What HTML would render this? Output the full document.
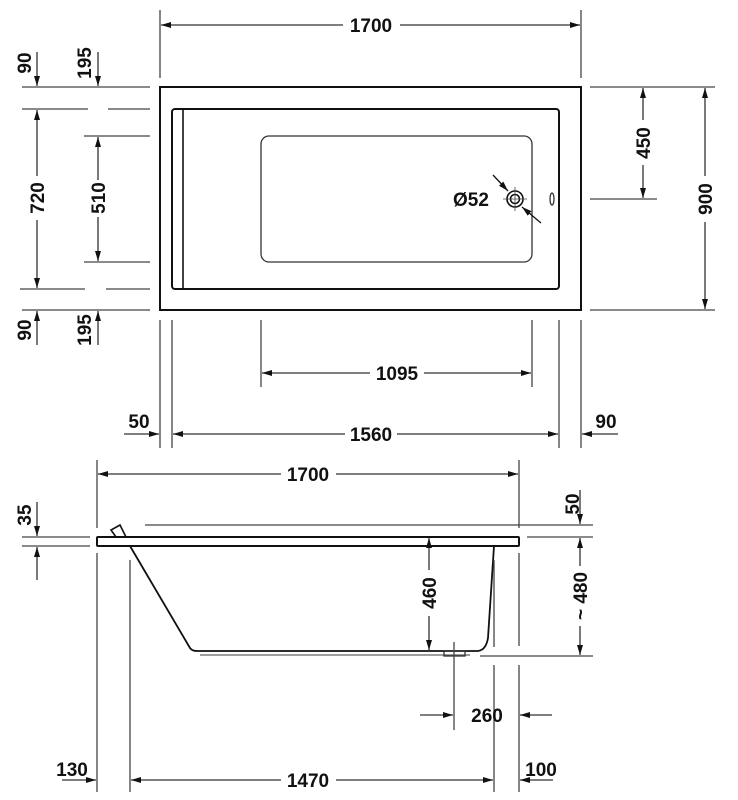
<!DOCTYPE html>
<html><head><meta charset="utf-8"><style>
html,body{margin:0;padding:0;background:#fff;}
svg{display:block;}
text{font-family:"Liberation Sans",sans-serif;font-weight:bold;font-size:19px;fill:#111;}
</style></head><body>
<svg width="738" height="800" viewBox="0 0 738 800" xmlns="http://www.w3.org/2000/svg">
<defs>
<marker id="a" viewBox="0 0 10 6" refX="10" refY="3" markerWidth="10" markerHeight="6" markerUnits="userSpaceOnUse" orient="auto-start-reverse"><path d="M0,0 L10,3 L0,6 z" fill="#111"/></marker>
</defs>
<g stroke="#444" stroke-width="1.3" fill="none">
<!-- TOP VIEW -->
<rect x="160" y="87" width="421" height="223" stroke="#111" stroke-width="2"/>
<rect x="172" y="109" width="387" height="180" rx="3" stroke="#111" stroke-width="2"/>
<line x1="183" y1="109" x2="183" y2="289" stroke="#111" stroke-width="1.6"/>
<rect x="261" y="136" width="271" height="126" rx="8" stroke="#333" stroke-width="1.3"/>
<circle cx="515" cy="199" r="8" stroke="#111" stroke-width="1.6"/>
<circle cx="515" cy="199" r="4.5" stroke="#111" stroke-width="1.6"/>
<line x1="503" y1="199" x2="527" y2="199" stroke-width="0.8"/>
<line x1="515" y1="187" x2="515" y2="211" stroke-width="0.8"/>
<ellipse cx="552" cy="199" rx="2" ry="6" stroke="#333"/>
<line x1="493" y1="175" x2="508" y2="191" stroke="#111" marker-end="url(#a)"/>
<line x1="541" y1="223" x2="522" y2="207" stroke="#111" marker-end="url(#a)"/>
<!-- top 1700 -->
<line x1="160" y1="10" x2="160" y2="78"/>
<line x1="581" y1="10" x2="581" y2="78"/>
<line x1="343" y1="25" x2="161" y2="25" stroke="#333" marker-end="url(#a)"/>
<line x1="400" y1="25" x2="580" y2="25" stroke="#333" marker-end="url(#a)"/>
<!-- right ext -->
<line x1="590" y1="87" x2="715" y2="87"/>
<line x1="590" y1="199" x2="657" y2="199"/>
<line x1="590" y1="310" x2="715" y2="310"/>
<line x1="643" y1="120" x2="643" y2="88" stroke="#333" marker-end="url(#a)"/>
<line x1="643" y1="165" x2="643" y2="198" stroke="#333" marker-end="url(#a)"/>
<line x1="705" y1="176" x2="705" y2="88" stroke="#333" marker-end="url(#a)"/>
<line x1="705" y1="222" x2="705" y2="309" stroke="#333" marker-end="url(#a)"/>
<!-- left ext -->
<line x1="22" y1="87" x2="150" y2="87"/>
<line x1="22" y1="109" x2="88" y2="109"/><line x1="108" y1="109" x2="150" y2="109"/>
<line x1="84" y1="136" x2="150" y2="136"/>
<line x1="84" y1="262" x2="150" y2="262"/>
<line x1="20" y1="289" x2="85" y2="289"/><line x1="106" y1="289" x2="150" y2="289"/>
<line x1="22" y1="310" x2="150" y2="310"/>
<line x1="37" y1="52" x2="37" y2="86" stroke="#333" marker-end="url(#a)"/>
<line x1="98" y1="52" x2="98" y2="86" stroke="#333" marker-end="url(#a)"/>
<line x1="37" y1="176" x2="37" y2="110" stroke="#333" marker-end="url(#a)"/>
<line x1="37" y1="220" x2="37" y2="288" stroke="#333" marker-end="url(#a)"/>
<line x1="98" y1="180" x2="98" y2="137" stroke="#333" marker-end="url(#a)"/>
<line x1="98" y1="217" x2="98" y2="261" stroke="#333" marker-end="url(#a)"/>
<line x1="37" y1="345" x2="37" y2="311" stroke="#333" marker-end="url(#a)"/>
<line x1="98" y1="345" x2="98" y2="311" stroke="#333" marker-end="url(#a)"/>
<!-- below top ext -->
<line x1="160" y1="320" x2="160" y2="448"/>
<line x1="172" y1="320" x2="172" y2="448"/>
<line x1="261" y1="320" x2="261" y2="387"/>
<line x1="532" y1="320" x2="532" y2="387"/>
<line x1="559" y1="320" x2="559" y2="448"/>
<line x1="581" y1="320" x2="581" y2="448"/>
<line x1="370" y1="373" x2="262" y2="373" stroke="#333" marker-end="url(#a)"/>
<line x1="424" y1="373" x2="531" y2="373" stroke="#333" marker-end="url(#a)"/>
<line x1="345" y1="434" x2="173" y2="434" stroke="#333" marker-end="url(#a)"/>
<line x1="397" y1="434" x2="558" y2="434" stroke="#333" marker-end="url(#a)"/>
<line x1="124" y1="434" x2="159" y2="434" stroke="#333" marker-end="url(#a)"/>
<line x1="618" y1="434" x2="582" y2="434" stroke="#333" marker-end="url(#a)"/>

<!-- SIDE VIEW -->
<line x1="97" y1="460" x2="97" y2="528"/>
<line x1="97" y1="553" x2="97" y2="792"/>
<line x1="519" y1="460" x2="519" y2="528"/>
<line x1="519" y1="553" x2="519" y2="646"/>
<line x1="519" y1="665" x2="519" y2="792"/>
<line x1="281" y1="474" x2="98" y2="474" stroke="#333" marker-end="url(#a)"/>
<line x1="336" y1="474" x2="518" y2="474" stroke="#333" marker-end="url(#a)"/>
<rect x="97" y="537" width="422" height="9" rx="1" stroke="#111" stroke-width="2"/>
<line x1="145" y1="525" x2="593" y2="525"/>
<path d="M116,537 L111,530 L120,525 L126,537" stroke="#111" stroke-width="1.6"/>
<path d="M130,546 L190,648 Q192,651 197,651 L478,651 Q486,650 488,638 L494,546" stroke="#111" stroke-width="1.8"/>
<line x1="200" y1="655" x2="470" y2="655" stroke="#666"/>
<rect x="444" y="651" width="21" height="5" stroke="#333"/>
<!-- 35 -->
<line x1="22" y1="537" x2="90" y2="537"/>
<line x1="22" y1="546" x2="90" y2="546"/>
<line x1="37" y1="502" x2="37" y2="536" stroke="#333" marker-end="url(#a)"/>
<line x1="37" y1="580" x2="37" y2="547" stroke="#333" marker-end="url(#a)"/>
<!-- right 50/480 -->
<line x1="527" y1="537" x2="593" y2="537"/>
<line x1="480" y1="656" x2="593" y2="656"/>
<line x1="580" y1="490" x2="580" y2="524" stroke="#333" marker-end="url(#a)"/>
<line x1="580" y1="566" x2="580" y2="538" stroke="#333" marker-end="url(#a)"/>
<line x1="580" y1="626" x2="580" y2="655" stroke="#333" marker-end="url(#a)"/>
<!-- 460 -->
<line x1="429" y1="570" x2="429" y2="538" stroke="#333" marker-end="url(#a)"/>
<line x1="429" y1="616" x2="429" y2="650" stroke="#333" marker-end="url(#a)"/>
<!-- verticals -->
<line x1="130" y1="560" x2="130" y2="792"/>
<line x1="494" y1="560" x2="494" y2="647"/>
<line x1="494" y1="665" x2="494" y2="792"/>
<line x1="454" y1="642" x2="454" y2="730"/>
<line x1="420" y1="715" x2="453" y2="715" stroke="#333" marker-end="url(#a)"/>
<line x1="552" y1="715" x2="520" y2="715" stroke="#333" marker-end="url(#a)"/>
<line x1="62" y1="780" x2="96" y2="780" stroke="#333" marker-end="url(#a)"/>
<line x1="281" y1="780" x2="131" y2="780" stroke="#333" marker-end="url(#a)"/>
<line x1="336" y1="780" x2="493" y2="780" stroke="#333" marker-end="url(#a)"/>
<line x1="553" y1="780" x2="520" y2="780" stroke="#333" marker-end="url(#a)"/>
</g>
<g text-anchor="middle">
<text x="371" y="32">1700</text>
<text x="471" y="206">Ø52</text>
<text transform="translate(650,143) rotate(-90)">450</text>
<text transform="translate(712,199) rotate(-90)">900</text>
<text transform="translate(31,63) rotate(-90)">90</text>
<text transform="translate(91,63) rotate(-90)">195</text>
<text transform="translate(44,198) rotate(-90)">720</text>
<text transform="translate(105,198) rotate(-90)">510</text>
<text transform="translate(31,330) rotate(-90)">90</text>
<text transform="translate(91,330) rotate(-90)">195</text>
<text x="397" y="380">1095</text>
<text x="371" y="441">1560</text>
<text x="139" y="428">50</text>
<text x="606" y="428">90</text>
<text x="308" y="481">1700</text>
<text transform="translate(31,515) rotate(-90)">35</text>
<text transform="translate(579,504) rotate(-90)">50</text>
<text transform="translate(587,596) rotate(-90)">~ 480</text>
<text transform="translate(436,593) rotate(-90)">460</text>
<text x="487" y="722">260</text>
<text x="72" y="776">130</text>
<text x="308" y="787">1470</text>
<text x="541" y="776">100</text>
</g>
</svg>
</body></html>
